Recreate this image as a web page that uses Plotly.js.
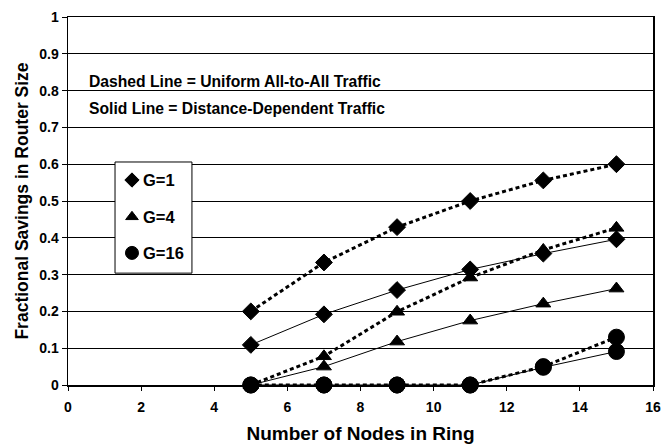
<!DOCTYPE html>
<html>
<head>
<meta charset="utf-8">
<script src="https://cdn.plot.ly/plotly-3.0.1.min.js"></script>
<style>html,body{margin:0;padding:0;background:#fff;}#chart{width:665px;height:444px;}</style>
</head>
<body>
<div id="chart"></div>
<script>
const nodes = [5, 7, 9, 11, 13, 15];
const g1Uniform = [0.2, 0.333, 0.429, 0.5, 0.556, 0.6];
const g1Distance = [0.109, 0.192, 0.258, 0.314, 0.357, 0.396];
const g4Uniform = [0, 0.078, 0.199, 0.292, 0.367, 0.427];
const g4Distance = [0, 0.05, 0.118, 0.175, 0.221, 0.262];
const g16Uniform = [0, 0, 0, 0, 0.05, 0.13];
const g16Distance = [0, 0, 0, 0, 0.048, 0.091];
const legendNames = ["G=1", "G=4", "G=16"];
const xTicks = [0, 2, 4, 6, 8, 10, 12, 14, 16];
const yTicks = [0, 0.1, 0.2, 0.3, 0.4, 0.5, 0.6, 0.7, 0.8, 0.9, 1];

const FONT = "Liberation Sans, Arial, sans-serif";
const dashed = {color: "#000", width: 3, dash: "4px,3px"};
const solid = {color: "#000", width: 1};
const symbols = ["diamond", "triangle-up", "circle"];
const sizes = [13, 13, 16];
const b = s => "<b>" + s + "</b>";

function series(y, line, k) {
  return {x: nodes, y: y, mode: "lines+markers", line: line,
    marker: {symbol: symbols[k], size: sizes[k], color: "#000", opacity: 1, line: {color: "#000", width: 1}},
    showlegend: false, hoverinfo: "skip", cliponaxis: false};
}

const traces = [
  series(g1Uniform, dashed, 0), series(g1Distance, solid, 0),
  series(g4Uniform, dashed, 1), series(g4Distance, solid, 1),
  series(g16Uniform, dashed, 2), series(g16Distance, solid, 2)
];

// legend box (drawn with the chart's own axes)
const legX = 1.75, legTextX = 2.0;
const legY = [0.557, 0.457, 0.359];
traces.push({
  x: legY.map(() => legX), y: legY, mode: "markers", showlegend: false, hoverinfo: "skip",
  marker: {symbol: symbols, size: [11, 11, 13], color: "#000", opacity: 1, line: {color: "#000", width: 1}}
});

const annotations = [
  {xref: "paper", yref: "y", x: 0.033, y: 0.826, xanchor: "left", yanchor: "middle", showarrow: false,
   text: b("Dashed Line = Uniform All-to-All Traffic"), font: {family: FONT, size: 15.7}},
  {xref: "paper", yref: "y", x: 0.033, y: 0.751, xanchor: "left", yanchor: "middle", showarrow: false,
   text: b("Solid Line = Distance-Dependent Traffic"), font: {family: FONT, size: 15.7}}
];
legendNames.forEach((n, k) => {
  annotations.push({xref: "x", yref: "y", x: legTextX, y: legY[k], xanchor: "left", yanchor: "middle",
    showarrow: false, text: b(n), font: {family: FONT, size: 16.5}});
});

const layout = {
  width: 665, height: 444,
  margin: {l: 68, r: 12, t: 17, b: 59},
  paper_bgcolor: "#fff", plot_bgcolor: "#fff",
  font: {family: FONT, color: "#000", size: 14},
  showlegend: false,
  xaxis: {
    range: [0, 16], tickvals: xTicks, ticktext: xTicks.map(v => b(v)),
    showgrid: false, zeroline: false, showline: true, linecolor: "#000", linewidth: 1.5,
    mirror: true, ticks: "outside", ticklen: 4, tickcolor: "#000", ticklabelstandoff: 5,
    tickfont: {family: FONT, size: 14},
    title: {text: b("Number of Nodes in Ring"), font: {family: FONT, size: 19}, standoff: 12}
  },
  yaxis: {
    range: [0, 1], tickvals: yTicks, ticktext: yTicks.map(v => b(v)),
    showgrid: true, gridcolor: "#000", gridwidth: 1, zeroline: false,
    showline: true, linecolor: "#000", linewidth: 1.5, mirror: true,
    ticks: "outside", ticklen: 5, tickcolor: "#000",
    tickfont: {family: FONT, size: 14},
    title: {text: b("Fractional Savings in Router Size"), font: {family: FONT, size: 17.5}, standoff: 6}
  },
  shapes: [
    {type: "rect", xref: "x", yref: "y", x0: 1.286, x1: 3.39, y0: 0.304, y1: 0.606,
     line: {color: "#000", width: 1}, fillcolor: "#fff", layer: "between"}
  ],
  annotations: annotations
};

Plotly.newPlot("chart", traces, layout, {displayModeBar: false, staticPlot: true});
</script>
</body>
</html>
